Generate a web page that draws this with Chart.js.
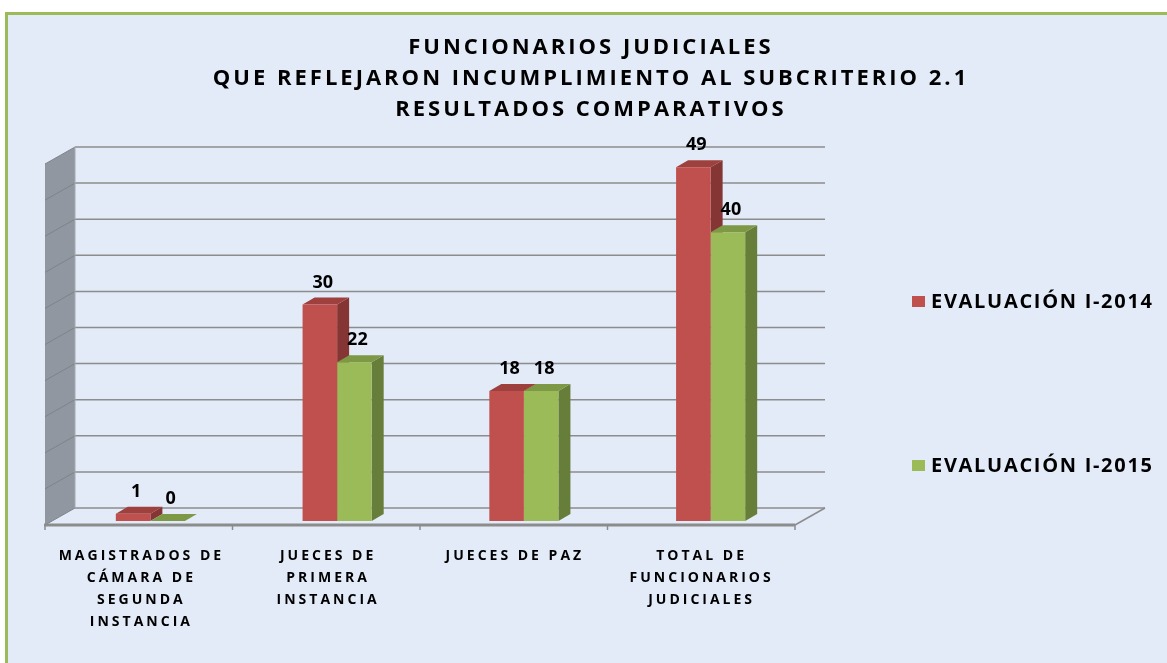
<!DOCTYPE html>
<html><head><meta charset="utf-8">
<script src="https://cdn.jsdelivr.net/npm/chart.js@4.4.1/dist/chart.umd.min.js"></script>
<style>
html,body{margin:0;padding:0;width:1167px;height:663px;overflow:hidden;background:#fff}
#frame{position:absolute;left:5px;top:12px;width:1200px;height:700px;border:3px solid #9BBB59;background:#E3EBF8;box-sizing:border-box}
#c{position:absolute;left:0;top:0}
</style></head><body><div id="frame"></div><canvas id="c" width="1167" height="663"></canvas>
<script>
const categories = [
  ["MAGISTRADOS DE","CÁMARA DE","SEGUNDA","INSTANCIA"],
  ["JUECES DE","PRIMERA","INSTANCIA"],
  ["JUECES DE PAZ"],
  ["TOTAL DE","FUNCIONARIOS","JUDICIALES"]
];
const series2014 = [1, 30, 18, 49];
const series2015 = [0, 22, 18, 40];
const seriesNames = ["EVALUACIÓN I-2014", "EVALUACIÓN I-2015"];
const titleLines = ["FUNCIONARIOS JUDICIALES", "QUE REFLEJARON INCUMPLIMIENTO AL SUBCRITERIO 2.1", "RESULTADOS COMPARATIVOS"];
const yMin = 0, yMax = 50, yStep = 5;

const COLORS = [
  {front:'#C0504D', side:'#853634', top:'#9E403D'},
  {front:'#9BBB59', side:'#677D3A', top:'#7D9946'}
];
const DX = 12, DY = 7;

function poly(ctx, pts, fill){
  ctx.beginPath(); ctx.moveTo(pts[0][0], pts[0][1]);
  for (let i=1;i<pts.length;i++) ctx.lineTo(pts[i][0], pts[i][1]);
  ctx.closePath(); ctx.fillStyle = fill; ctx.fill();
}
function line(ctx, x1,y1,x2,y2,color,w){
  ctx.beginPath(); ctx.moveTo(x1,y1); ctx.lineTo(x2,y2);
  ctx.strokeStyle=color; ctx.lineWidth=w; ctx.stroke();
}

const threeD = {
  id:'threeD',
  beforeDraw(chart){
    chart.ctx.letterSpacing = '3px';
  },
  beforeDatasetsDraw(chart){
    const ctx = chart.ctx, a = chart.chartArea, ys = chart.scales.y;
    const fl = a.left-12, fr = a.right-9, bl = a.left+18, br = a.right+21;
    const y0 = ys.getPixelForValue(yMin), yt = ys.getPixelForValue(yMax);
    ctx.save();
    poly(ctx, [[fl,yt+4],[bl,yt-13],[bl,y0-13],[fl,y0+4]], '#9197A0');
    ys.ticks.forEach(t=>{
      const y = ys.getPixelForValue(t.value);
      line(ctx, bl, y-13, br, y-13, '#8C8C8C', 1.5);
      line(ctx, fl, y+4, bl, y-13, '#7E838B', 1);
    });
    line(ctx, bl, yt-13, bl, y0-13, '#A6AAB0', 1);
    line(ctx, fl-1, y0+4, fr, y0+4, '#8C8C8C', 3);
    line(ctx, fr, y0+4, br, y0-13, '#8C8C8C', 1.5);
    const n = categories.length;
    for (let i=0;i<=n;i++){
      const x = fl + i*(fr-fl)/n;
      line(ctx, x, y0+4, x, y0+9, '#8C8C8C', 1.5);
    }
    chart.data.datasets.forEach((ds, di)=>{
      const meta = chart.getDatasetMeta(di);
      meta.data.forEach(el=>{
        const p = el.getProps(['x','y','base','width'], true);
        const l = p.x - p.width/2, r = p.x + p.width/2;
        poly(ctx, [[r,p.y],[r+DX,p.y-DY],[r+DX,p.base-DY],[r,p.base]], COLORS[di].side);
        poly(ctx, [[l,p.y],[l+DX,p.y-DY],[r+DX,p.y-DY],[r,p.y]], COLORS[di].top);
      });
    });
    ctx.restore();
  },
  afterDatasetsDraw(chart){
    const ctx = chart.ctx;
    ctx.save();
    ctx.letterSpacing = '0px';
    ctx.font = 'bold 18px "Open Sans"';
    ctx.fillStyle = '#000'; ctx.textAlign='center'; ctx.textBaseline='middle';
    chart.data.datasets.forEach((ds, di)=>{
      const meta = chart.getDatasetMeta(di);
      meta.data.forEach((el, i)=>{
        const p = el.getProps(['x','y'], true);
        ctx.fillText(String(ds.data[i]), p.x + 3, p.y - DY - 15);
      });
    });
    ctx.restore();
  },
  afterDraw(chart){
    const ctx = chart.ctx, a = chart.chartArea;
    ctx.save();
    ctx.letterSpacing = '1.7px';
    ctx.font = 'bold 20px "Open Sans"';
    ctx.textAlign='left'; ctx.textBaseline='middle';
    const ys = [a.top+142, a.top+306];
    chart.data.datasets.forEach((ds, di)=>{
      const x = a.right + 108, y = ys[di];
      ctx.fillStyle = COLORS[di].front;
      ctx.fillRect(x, y-6, 13, 11);
      ctx.fillStyle = '#000';
      ctx.fillText(ds.label, x + 19, y);
    });
    ctx.restore();
  }
};

Chart.defaults.font.family = '"Open Sans"';
new Chart(document.getElementById('c'), {
  type:'bar',
  data:{
    labels: categories,
    datasets:[
      {label: seriesNames[0], data: series2014, backgroundColor: COLORS[0].front, borderWidth:0},
      {label: seriesNames[1], data: series2015, backgroundColor: COLORS[1].front, borderWidth:0}
    ]
  },
  options:{
    responsive:false, animation:false,
    layout:{padding:{left:15,right:0,top:0,bottom:0}},
    categoryPercentage:0.37, barPercentage:1,
    plugins:{
      legend:{display:false},
      tooltip:{enabled:false},
      title:{display:true, text:titleLines, color:'#000',
        font:{weight:'bold', size:22, lineHeight:'31px'},
        padding:{top:32.5, bottom:34.5}}
    },
    scales:{
      x:{
        grid:{display:false, drawTicks:false}, border:{display:false},
        ticks:{color:'#000', font:{weight:'bold', size:14, lineHeight:'22px'}, padding:24, labelOffset:-9, maxRotation:0, autoSkip:false},
        afterFit(s){ s.height = 142; }
      },
      y:{
        min:yMin, max:yMax, ticks:{stepSize:yStep, display:false},
        grid:{display:false}, border:{display:false},
        afterFit(s){ s.width = 42; }
      },
      y2:{
        position:'right', display:true, ticks:{display:false},
        grid:{display:false}, border:{display:false},
        afterFit(s){ s.width = 363; }
      }
    }
  },
  plugins:[threeD]
});
</script></body></html>
